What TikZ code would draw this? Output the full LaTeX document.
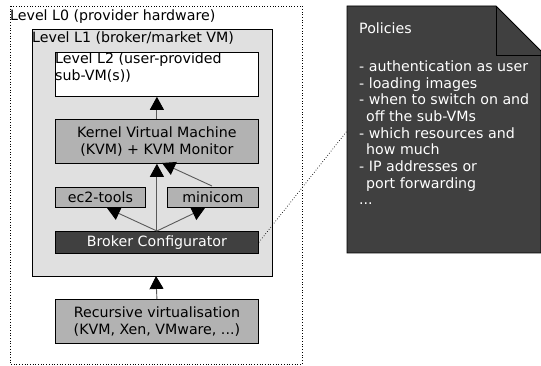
\documentclass[tikz,border=0pt]{standalone}
\usepackage{fontspec}
\setmainfont{DejaVu Sans}
\usetikzlibrary{arrows.meta}
\begin{document}
\begin{tikzpicture}[x=1pt,y=-1pt,
  every node/.style={font=\fontsize{14.2}{16.7}\selectfont, inner sep=0pt},
  box/.style={draw=black, line width=0.8pt, minimum width=203pt, align=center},
  arr/.style={-{Triangle[length=13pt,width=14pt,color=black,fill=black]}, line width=0.9pt, draw=black!65},
  lbl/.style={anchor=north west}
]
\useasboundingbox (0,0) rectangle (541,366);
% L0
\draw[dotted, line width=0.7pt] (10,6) rectangle (302,364);
\node[lbl] (l0) at (10,10) {Level L0 (provider hardware)};
% L1
\draw[fill=black!12, line width=0.8pt] (32,29) rectangle (272,276);
\coordinate (l1b) at (156,276);
\node[lbl] (l1) at (32,32) {Level L1 (broker/market VM)};
% L2
\node[box, fill=white, minimum height=44pt, anchor=north west] (l2) at (55,52) {};
\node[lbl, align=left] (l2t) at (55,53) {Level L2 (user-provided\\sub-VM(s))};
% KVM
\node[box, fill=black!30, minimum height=44pt, anchor=north west] (kvm) at (55,119) {Kernel Virtual Machine\\(KVM) + KVM Monitor};
% ec2 & minicom
\node[box, fill=black!30, minimum width=90pt, minimum height=20pt, anchor=north west] (ec2) at (55,187) {ec2-tools};
\node[box, fill=black!30, minimum width=91pt, minimum height=20pt, anchor=north west] (mini) at (167,187) {minicom};
% broker
\node[box, fill=black!75, text=white, minimum height=22pt, anchor=north west] (brk) at (55,231) {Broker Configurator};
% recursive
\node[box, fill=black!30, minimum height=44pt, anchor=north west] (rec) at (55,299) {Recursive virtualisation\\(KVM, Xen, VMware, ...)};
% policies
\draw[fill=black!75, line width=0.8pt] (347,6) -- (496,6) -- (541,51) -- (541,253) -- (347,253) -- cycle;
\draw[line width=0.8pt] (496,6) -- (496,55) -- (541,55);
\node[anchor=north west, text=white, align=left] (pol) at (359,23) {Policies\\[20.7pt]- authentication as user\\- loading images\\- when to switch on and\\\hspace*{7pt}off the sub-VMs\\- which resources and\\\hspace*{7pt}how much\\- IP addresses or\\\hspace*{7pt}port forwarding\\...};
\coordinate (polL) at (347,131);
\coordinate (ec2t) at (107,208);
\coordinate (minit) at (205,208);
\coordinate (minis) at (212,186);
\coordinate (kvmt) at (162,163);
% arrows
\draw[arr] (kvm.north) -- (l2.south);
\draw[arr] (brk.north) -- (kvm.south);
\draw[arr] (brk.north) -- (ec2t);
\draw[arr] (brk.north) -- (minit);
\draw[arr] (minis) -- (kvmt);
\draw[arr] (rec.north) -- (l1b);
\draw[dotted, line width=0.7pt] (brk.east) -- (polL);
\end{tikzpicture}
\end{document}
